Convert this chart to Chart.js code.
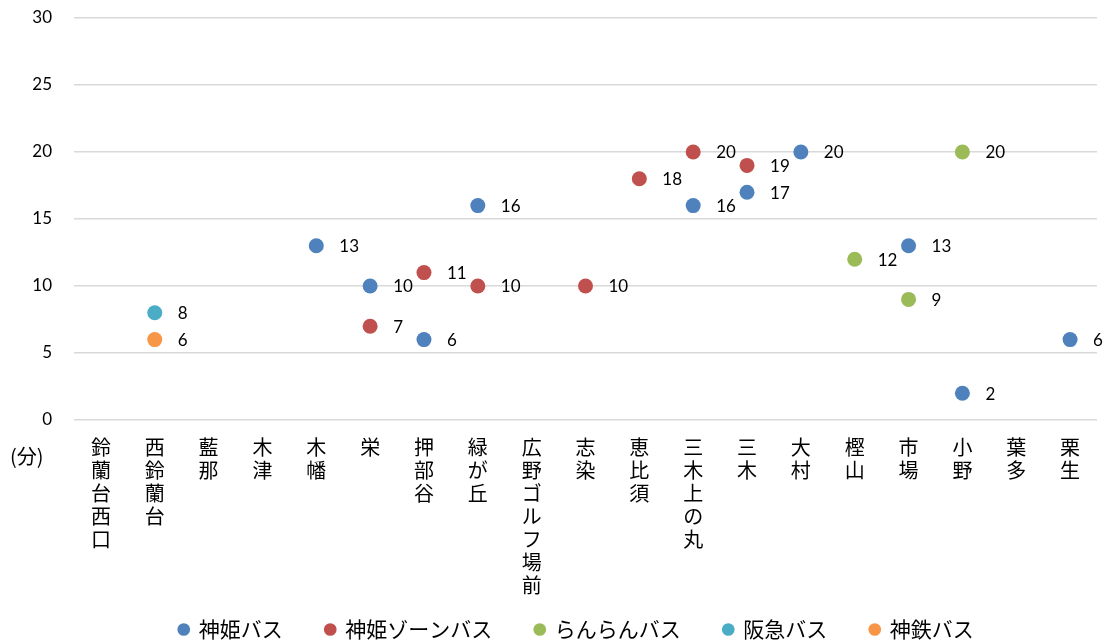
<!DOCTYPE html>
<html>
<head>
<meta charset="utf-8">
<script src="https://cdn.jsdelivr.net/npm/chart.js@4"></script>
<style>
  html, body { margin: 0; padding: 0; background: #fff; }
  #wrap { width: 1110px; height: 643px; }
</style>
</head>
<body>
<div id="wrap"><canvas id="busChart"></canvas></div>
<script>
const categories = ['鈴蘭台西口', '西鈴蘭台', '藍那', '木津', '木幡', '栄', '押部谷', '緑が丘', '広野ゴルフ場前',
  '志染', '恵比須', '三木上の丸', '三木', '大村', '樫山', '市場', '小野', '葉多', '栗生'];

const shinkiBus   = [null, null, null, null, 13, 10, 6, 16, null, null, null, 16, 17, 20, null, 13, 2, null, 6];
const shinkiZone  = [null, null, null, null, null, 7, 11, 10, null, 10, 18, 20, 19, null, null, null, null, null, null];
const ranranBus   = [null, null, null, null, null, null, null, null, null, null, null, null, null, null, 12, 9, 20, null, null];
const hankyuBus   = [null, 8, null, null, null, null, null, null, null, null, null, null, null, null, null, null, null, null, null];
const shintetsuBus = [null, 6, null, null, null, null, null, null, null, null, null, null, null, null, null, null, null, null, null];

const yTicks = [0, 5, 10, 15, 20, 25, 30];

const jpFont = '"Noto Sans CJK JP", "Noto Sans", sans-serif';
const numFont = 'Lato, "Open Sans", sans-serif';

// value labels to the right of each point
const pointLabels = {
  id: 'pointLabels',
  afterDatasetsDraw(chart) {
    const ctx = chart.ctx;
    ctx.save();
    ctx.font = '17px ' + numFont;
    ctx.fillStyle = '#000';
    ctx.textAlign = 'left';
    ctx.textBaseline = 'middle';
    chart.data.datasets.forEach((ds, i) => {
      const meta = chart.getDatasetMeta(i);
      meta.data.forEach((pt, j) => {
        const v = ds.data[j];
        if (v === null || v === undefined) return;
        ctx.fillText(String(v), pt.x + 23, pt.y + 1);
      });
    });
    ctx.restore();
  }
};

// "(分)" unit label at the left below the axis
const unitLabel = {
  id: 'unitLabel',
  afterDraw(chart) {
    const ctx = chart.ctx;
    ctx.save();
    ctx.font = '20px ' + jpFont;
    ctx.fillStyle = '#000';
    ctx.textAlign = 'left';
    ctx.textBaseline = 'middle';
    ctx.fillText('(分)', 10, chart.chartArea.bottom + 36);
    ctx.restore();
  }
};

// legend: wide gaps between items, but keep it tight vertically
const legendFit = {
  id: 'legendFit',
  afterInit(chart) {
    const lg = chart.legend;
    const fit = lg.fit;
    lg.fit = function () { fit.call(this); this.height = 43; };
  },
  afterLayout(chart) {
    const lg = chart.legend;
    lg.top -= 24;
    lg.left += 12;
    lg.right += 12;
  }
};

function makeSet(label, data, color) {
  return {
    label: label,
    data: data,
    showLine: false,
    backgroundColor: color,
    borderColor: color,
    pointRadius: 7.5,
    pointHoverRadius: 7.5,
    pointBorderWidth: 0
  };
}

new Chart(document.getElementById('busChart'), {
  type: 'line',
  data: {
    labels: categories.map(c => Array.from(c)),
    datasets: [
      makeSet('神姫バス', shinkiBus, '#4F81BD'),
      makeSet('神姫ゾーンバス', shinkiZone, '#C0504D'),
      makeSet('らんらんバス', ranranBus, '#9BBB59'),
      makeSet('阪急バス', hankyuBus, '#4BACC6'),
      makeSet('神鉄バス', shintetsuBus, '#F79646')
    ]
  },
  options: {
    responsive: true,
    maintainAspectRatio: false,
    animation: false,
    layout: { padding: { left: 32, right: 13, top: 18, bottom: 0 } },
    plugins: {
      legend: {
        position: 'bottom',
        labels: {
          usePointStyle: true,
          pointStyle: 'circle',
          boxWidth: 9,
          boxHeight: 9,
          padding: 43,
          color: '#000',
          font: { family: jpFont, size: 21 }
        }
      },
      tooltip: { enabled: false }
    },
    scales: {
      x: {
        offset: true,
        grid: { display: false, drawTicks: false },
        border: { display: false },
        ticks: {
          autoSkip: false,
          maxRotation: 0,
          minRotation: 0,
          padding: 16,
          color: '#000',
          font: { family: jpFont, size: 20, lineHeight: 1.15 }
        },
        afterFit(scale) { scale.height = 180; }
      },
      y: {
        min: 0,
        max: 30,
        afterBuildTicks(scale) { scale.ticks = yTicks.map(v => ({ value: v })); },
        grid: { color: '#D9D9D9', lineWidth: 1.5, drawTicks: true, tickLength: 19, tickColor: 'rgba(0,0,0,0)' },
        border: { display: false },
        ticks: {
          padding: 3,
          color: '#000',
          font: { family: numFont, size: 17 }
        },
        afterFit(scale) { scale.width = 42; }
      }
    }
  },
  plugins: [pointLabels, unitLabel, legendFit]
});
</script>
</body>
</html>
